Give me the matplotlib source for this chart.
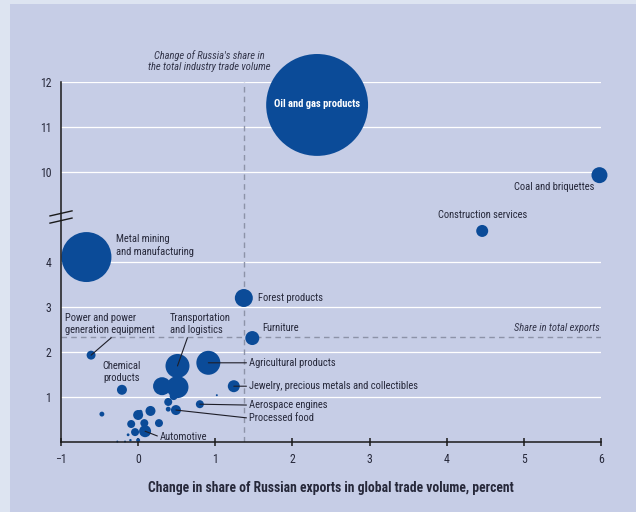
import matplotlib
matplotlib.use('Agg')
import matplotlib.pyplot as plt
from matplotlib import font_manager
from matplotlib.patches import Rectangle
import numpy as np

# industries: change in share of exports (x), change in share of industry trade (y), trade volume (bubble area)
sectors = ['Oil and gas products', 'Coal and briquettes', 'Construction services',
           'Metal mining\nand manufacturing', 'Forest products', 'Furniture',
           'Power and power\ngeneration equipment', 'Transportation\nand logistics',
           'Agricultural products', 'Chemical\nproducts',
           'Jewelry, precious metals and collectibles', 'Aerospace engines',
           'Processed food', 'Automotive']
sect_x = [2.32, 5.98, 4.46, -0.67, 1.37, 1.48, -0.61, 0.51, 0.91, -0.21, 1.24, 0.80, 0.49, 0.09]
sect_y = [11.49, 9.93, 4.69, 4.11, 3.20, 2.31, 1.93, 1.69, 1.76, 1.16, 1.24, 0.84, 0.71, 0.24]
sect_vol = [260.0, 6.4, 3.6, 62.5, 8.1, 4.9, 2.0, 14.4, 14.4, 2.5, 3.6, 1.6, 2.5, 3.6]

# smaller industries without labels
other_x = [0.31, 0.51, 0.46, 0.39, 0.39, 0.27, 0.16, 0.00, -0.09, 0.08, -0.04, -0.47, 1.02,
           0.03, 0.00, -0.13, -0.10, -0.17, -0.27]
other_y = [1.24, 1.22, 1.02, 0.89, 0.73, 0.42, 0.69, 0.60, 0.40, 0.42, 0.22, 0.62, 1.04,
           0.67, 0.04, 0.16, 0.04, 0.01, 0.01]
other_vol = [8.1, 12.1, 1.6, 1.6, 0.6, 1.6, 2.5, 2.5, 1.6, 1.6, 1.6, 0.6, 0.1,
             0.4, 0.4, 0.2, 0.15, 0.1, 0.1]

export_share = 2.33     # Russia's share in total exports
industry_share = 1.37   # change of Russia's share in total industry trade volume

x_ticks = [-1, 0, 1, 2, 3, 4, 5, 6]
y_ticks = [1, 2, 3, 4, 10, 11, 12]

# fonts: narrow face if available
avail = set(f.name for f in font_manager.fontManager.ttflist)
fam = [f for f in ['Liberation Sans Narrow', 'Roboto Condensed', 'Liberation Sans', 'DejaVu Sans'] if f in avail]
plt.rcParams['font.family'] = fam

BLUE = '#0b4b98'
TXT = '#26283a'
PANEL = '#c6cde6'
OUTER = '#dde4f1'
DASH = '#8d93a8'


# broken y axis: 0..5 as is, 9..12 shifted down by 4
def fwd(y):
    y = np.asarray(y, dtype=float)
    return np.where(y <= 5, y, np.where(y >= 9, y - 4, 5.0))


def inv(p):
    p = np.asarray(p, dtype=float)
    return np.where(p <= 5, p, p + 4)


fig = plt.figure(figsize=(6.36, 5.12), dpi=100)
fig.patch.set_facecolor(OUTER)
fig.patches.append(Rectangle((10 / 636, 0), 1, 1 - 4 / 512, transform=fig.transFigure,
                             facecolor=PANEL, edgecolor='none', zorder=-10))

ax = fig.add_axes([61 / 636, 70 / 512, 540 / 636, 360 / 512])
ax.patch.set_visible(False)
ax.set_yscale('function', functions=(fwd, inv))
ax.set_xlim(-1, 6)
ax.set_ylim(0, 12)

for yt in y_ticks:
    ax.axhline(yt, color='white', lw=0.9, zorder=1)
ax.axhline(export_share, color=DASH, lw=1.0, ls=(0, (4, 3)), zorder=1)
ax.axvline(industry_share, color=DASH, lw=1.0, ls=(0, (4, 3)), zorder=1)

k = 20.7
ax.scatter(other_x, other_y, s=np.array(other_vol) * k, color=BLUE, lw=0, zorder=3, clip_on=False)
ax.scatter(sect_x, sect_y, s=np.array(sect_vol) * k, color=BLUE, lw=0, zorder=3, clip_on=False)

fs = 7.6
lab = dict(fontsize=fs, color=TXT, zorder=5)
line = dict(arrowstyle='-', color='#1e1e28', lw=0.8, shrinkA=0, shrinkB=0)

ax.text(sect_x[0], sect_y[0] + 0.02, sectors[0], ha='center', va='center', color='white',
        fontsize=fs, fontweight='bold', zorder=5)
ax.text(5.91, 9.67, sectors[1], ha='right', va='center', **lab)
ax.text(4.46, 9.04, sectors[2], ha='center', va='center', **lab)
ax.text(-0.285, 4.37, sectors[3], ha='left', va='center', linespacing=1.2, **lab)
ax.text(1.556, 3.2, sectors[4], ha='left', va='center', **lab)
ax.text(1.61, 2.53, sectors[5], ha='left', va='center', **lab)
ax.annotate(sectors[6], xy=(sect_x[6], sect_y[6]), xytext=(-0.946, 2.62), ha='left', va='center',
            linespacing=1.2, arrowprops=dict(line, relpos=(0.55, 0)), **lab)
ax.annotate(sectors[7], xy=(sect_x[7], sect_y[7]), xytext=(0.415, 2.62), ha='left', va='center',
            linespacing=1.2, arrowprops=dict(line, relpos=(0.3, 0)), **lab)
ax.text(-0.22, 1.56, sectors[9], ha='center', va='center', linespacing=1.2, **lab)
ax.annotate(sectors[8], xy=(sect_x[8], sect_y[8]), xytext=(1.44, sect_y[8]), ha='left', va='center',
            arrowprops=dict(line, relpos=(0, 0.5)), **lab)
ax.annotate(sectors[10], xy=(sect_x[10], sect_y[10]), xytext=(1.44, sect_y[10]), ha='left', va='center',
            arrowprops=dict(line, relpos=(0, 0.5)), **lab)
ax.annotate(sectors[11], xy=(sect_x[11], sect_y[11]), xytext=(1.44, 0.82), ha='left', va='center',
            arrowprops=dict(line, relpos=(0, 0.5)), **lab)
ax.annotate(sectors[12], xy=(sect_x[12], sect_y[12]), xytext=(1.44, 0.53), ha='left', va='center',
            arrowprops=dict(line, relpos=(0, 0.5)), **lab)
ax.annotate(sectors[13], xy=(sect_x[13], sect_y[13]), xytext=(0.285, 0.11), ha='left', va='center',
            arrowprops=dict(line, relpos=(0, 0.5)), **lab)

ax.text(5.99, 2.53, 'Share in total exports', ha='right', va='center', style='italic',
        fontsize=fs, color='#33354a')
ax.text(0.92, 12.47, "Change of Russia's share in\nthe total industry trade volume", ha='center',
        va='center', style='italic', fontsize=fs, color='#33354a', linespacing=1.15)

for s in ['top', 'right']:
    ax.spines[s].set_visible(False)
for s in ['left', 'bottom']:
    ax.spines[s].set_color('#1a1a1a')
    ax.spines[s].set_linewidth(1.1)
    ax.spines[s].set_zorder(4)

# axis break marks
for y0 in (0.608, 0.628):
    ax.plot([-0.0204, 0.0204], [y0, y0 + 0.014], transform=ax.transAxes, color='#1a1a1a',
            lw=1.0, clip_on=False, zorder=6)

ax.set_xticks(x_ticks)
ax.set_xticklabels(['\u2212' + str(-t) if t < 0 else str(t) for t in x_ticks])
ax.set_yticks(y_ticks)
ax.set_yticklabels([str(t) for t in y_ticks])
ax.yaxis.set_minor_locator(matplotlib.ticker.NullLocator())
ax.tick_params(axis='x', direction='inout', length=6, width=1.1, color='#1a1a1a',
               labelsize=8.5, labelcolor=TXT, pad=5)
ax.tick_params(axis='y', length=0, labelsize=8.5, labelcolor=TXT, pad=7)
ax.set_xlabel('Change in share of Russian exports in global trade volume, percent',
              fontsize=9.8, fontweight='bold', color=TXT, labelpad=11)

fig.savefig('out.png', dpi=100, facecolor=fig.get_facecolor())
